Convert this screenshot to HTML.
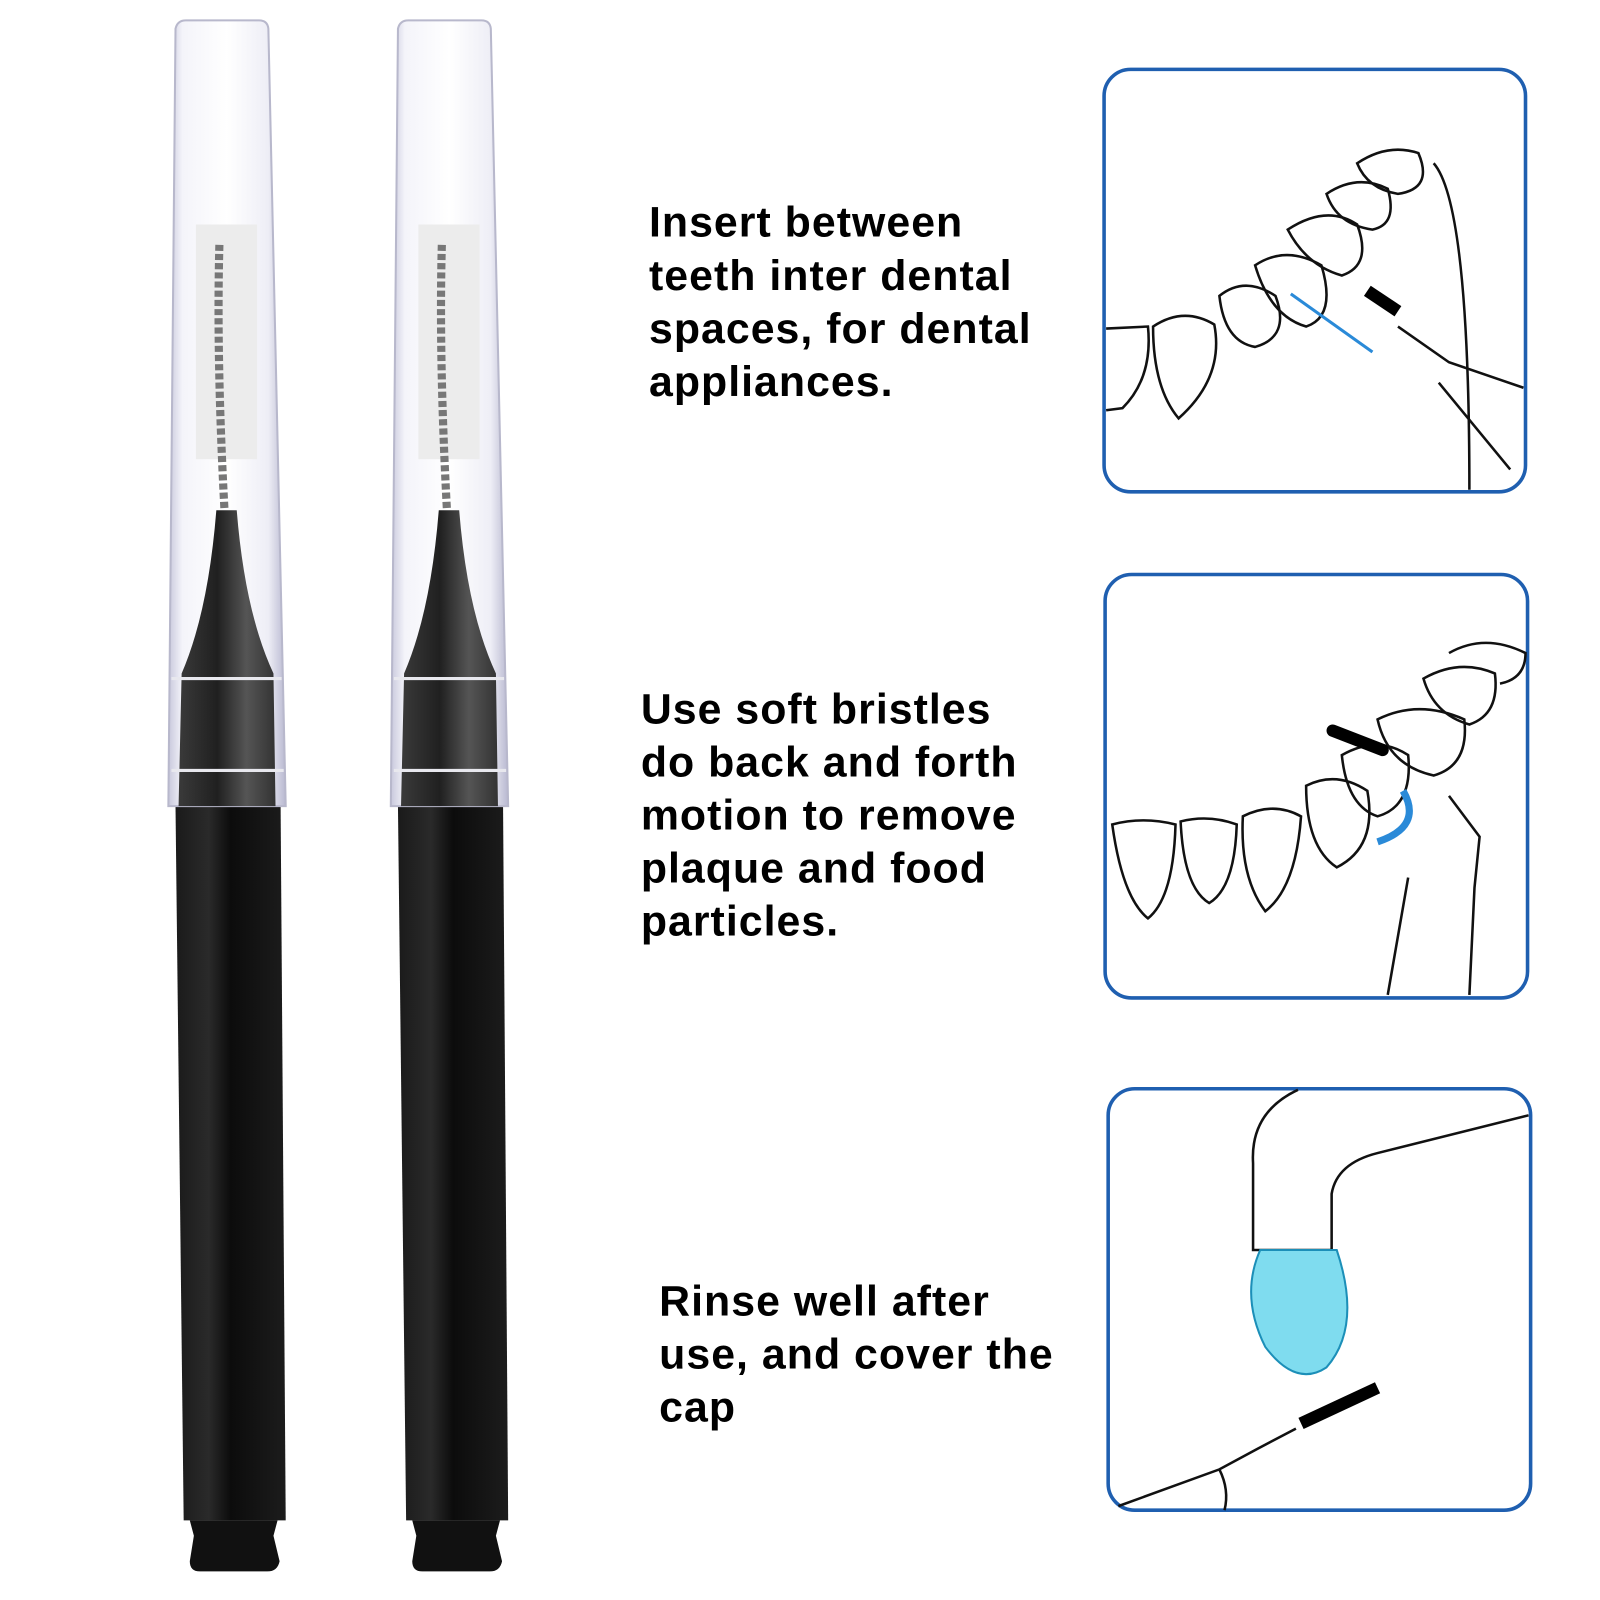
<!DOCTYPE html>
<html><head><meta charset="utf-8"><style>
html,body{margin:0;padding:0;background:#fff;width:1600px;height:1600px;overflow:hidden}
svg{display:block}
text{font-family:"Liberation Sans",sans-serif;font-weight:bold;font-size:42px;letter-spacing:1px;fill:#000}
</style></head><body>
<svg width="1600" height="1600" viewBox="0 0 1568 1568" xmlns="http://www.w3.org/2000/svg">
<defs>
<linearGradient id="cap" x1="0" x2="1">
<stop offset="0" stop-color="#c8c8dc"/><stop offset="0.12" stop-color="#f4f4fa"/><stop offset="0.5" stop-color="#ffffff"/><stop offset="0.85" stop-color="#eeeef6"/><stop offset="1" stop-color="#b8b8d0"/>
</linearGradient>
<linearGradient id="body" x1="0" x2="1">
<stop offset="0" stop-color="#1a1a1a"/><stop offset="0.3" stop-color="#2a2a2a"/><stop offset="0.5" stop-color="#0c0c0c"/><stop offset="1" stop-color="#1c1c1c"/>
</linearGradient>
<linearGradient id="tip" x1="0" x2="1">
<stop offset="0" stop-color="#3a3a3a"/><stop offset="0.4" stop-color="#202020"/><stop offset="0.7" stop-color="#555"/><stop offset="1" stop-color="#333"/>
</linearGradient>
<g id="pen">
<path d="M172 790 L275 790 L280 1490 L180 1490 Z" fill="url(#body)"/>
<path d="M186 1490 L272 1490 L268 1505 L274 1530 Q272 1540 262 1540 L196 1540 Q186 1540 186 1530 L190 1505 Z" fill="#111"/>
<path d="M172 28 Q174 20 182 20 L254 20 Q262 20 263 28 L280 790 L165 790 Z" fill="url(#cap)" stroke="#b8b8cc" stroke-width="2"/>
<rect x="192" y="220" width="60" height="230" fill="#ececec"/>
<path d="M215 240 Q212 350 220 500" stroke="#777" stroke-width="8" stroke-dasharray="6 3" fill="none"/>
<path d="M212 500 L232 500 Q240 600 268 660 L270 790 L175 790 L178 660 Q204 600 212 500 Z" fill="url(#tip)"/>
<path d="M168 665 L276 665 M168 755 L278 755" stroke="#e8e8ee" stroke-width="3"/>
</g>
</defs>
<use href="#pen"/>
<use href="#pen" x="218"/>

<text x="636" y="232">Insert between</text>
<text x="636" y="284">teeth inter dental</text>
<text x="636" y="336">spaces, for dental</text>
<text x="636" y="388">appliances.</text>

<text x="628" y="709">Use soft bristles</text>
<text x="628" y="761">do back and forth</text>
<text x="628" y="813">motion to remove</text>
<text x="628" y="865">plaque and food</text>
<text x="628" y="917">particles.</text>

<text x="646" y="1289">Rinse well after</text>
<text x="646" y="1341">use, and cover the</text>
<text x="646" y="1393">cap</text>

<g fill="none" stroke="#1f5fb0" stroke-width="3.5">
<rect x="1082" y="68" width="413" height="414" rx="26"/>
<rect x="1083" y="563" width="414" height="415" rx="26"/>
<rect x="1086" y="1067" width="414" height="413" rx="26"/>
</g>

<g fill="none" stroke="#111" stroke-width="2.5">
<path d="M1084 322 L1125 320 Q1130 370 1100 400 L1084 402"/>
<path d="M1130 320 Q1160 300 1190 318 Q1200 370 1155 410 Q1130 380 1130 320Z"/>
<path d="M1195 290 Q1220 270 1250 290 Q1265 330 1230 340 Q1200 335 1195 290Z"/>
<path d="M1230 260 Q1260 240 1295 260 Q1310 310 1280 320 Q1245 310 1230 260Z"/>
<path d="M1262 225 Q1300 200 1330 220 Q1345 260 1315 270 Q1280 260 1262 225Z"/>
<path d="M1300 190 Q1330 170 1360 185 Q1370 220 1345 225 Q1310 220 1300 190Z"/>
<path d="M1330 160 Q1360 140 1390 150 Q1405 185 1370 190 Q1340 185 1330 160Z"/>
<path d="M1405 160 Q1440 200 1440 480"/>
<path d="M1370 320 L1420 355 L1493 380 M1410 375 L1480 460"/>
</g>
<path d="M1340 285 L1370 305" stroke="#000" stroke-width="12"/>
<path d="M1265 288 L1345 345" stroke="#2a8ad8" stroke-width="3"/>
<g fill="none" stroke="#111" stroke-width="2.5">
<path d="M1090 808 Q1120 800 1152 808 Q1150 880 1125 900 Q1100 880 1090 808Z"/>
<path d="M1157 805 Q1185 798 1212 808 Q1210 870 1185 885 Q1160 870 1157 805Z"/>
<path d="M1218 800 Q1248 785 1275 800 Q1270 870 1240 893 Q1215 860 1218 800Z"/>
<path d="M1280 770 Q1310 755 1340 775 Q1350 830 1310 850 Q1280 830 1280 770Z"/>
<path d="M1315 740 Q1350 720 1380 740 Q1385 790 1350 800 Q1320 790 1315 740Z"/>
<path d="M1350 705 Q1390 685 1435 705 Q1440 750 1405 760 Q1360 750 1350 705Z"/>
<path d="M1395 665 Q1430 645 1465 660 Q1470 700 1440 710 Q1405 700 1395 665Z"/>
<path d="M1420 640 Q1455 620 1495 640 Q1495 665 1470 670"/>
<path d="M1420 780 L1450 820 L1445 870 L1440 975 M1380 860 L1360 975"/>
</g>
<path d="M1306 716 L1355 735" stroke="#000" stroke-width="12" stroke-linecap="round"/>
<path d="M1350 825 Q1395 810 1375 775" fill="none" stroke="#2a8ad8" stroke-width="7"/>
<g fill="none" stroke="#111" stroke-width="2.5">
<path d="M1272 1068 Q1225 1090 1228 1140 L1228 1225 L1305 1225 L1305 1170 Q1310 1140 1350 1130 L1498 1093"/>
<path d="M1096 1476 L1195 1440 L1232 1420 L1270 1400"/>
<path d="M1195 1440 Q1205 1460 1200 1480"/>
</g>
<path d="M1235 1225 Q1215 1270 1240 1320 Q1270 1360 1300 1340 Q1335 1300 1310 1225 Z" fill="#7fdcef" stroke="#1c8fb8" stroke-width="2"/>
<path d="M1275 1395 L1350 1360" stroke="#000" stroke-width="12"/>
</svg>
</body></html>
